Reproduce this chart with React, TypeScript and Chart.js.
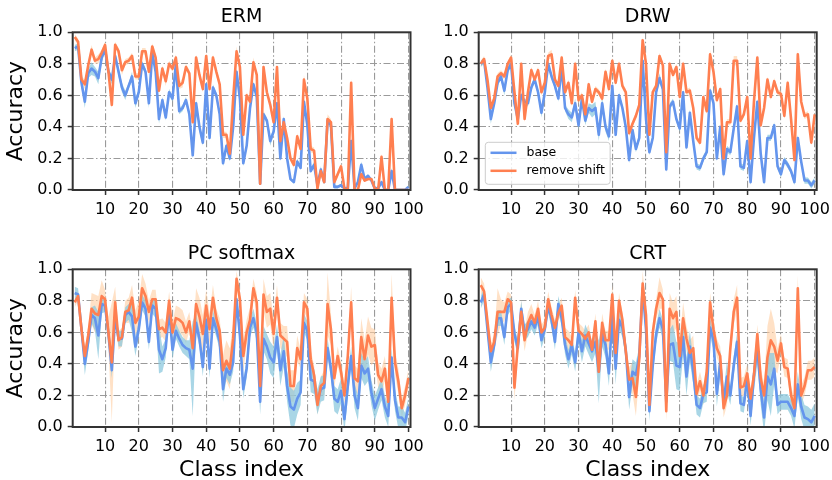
import React, { useEffect, useRef } from "react";
import { Chart, registerables } from "chart.js";

Chart.register(...registerables);

const FONT = "'DejaVu Sans', 'Liberation Sans', sans-serif";

// ---------- data ----------
const classIndex = Array.from({ length: 100 }, (_, i) => i + 1);
const xTickValues = [10, 20, 30, 40, 50, 60, 70, 80, 90, 100];
const yTickValues = [0, 0.2, 0.4, 0.6, 0.8, 1.0];
const panelTitles = ["ERM", "DRW", "PC softmax", "CRT"];
const seriesLabels = ["base", "remove shift"];

const ermBase = [
  0.90, 0.91, 0.68, 0.56, 0.74, 0.77, 0.75, 0.71, 0.84, 0.89,
  0.75, 0.70, 0.85, 0.75, 0.65, 0.60, 0.66, 0.72, 0.55, 0.62,
  0.80, 0.75, 0.55, 0.87, 0.75, 0.45, 0.57, 0.46, 0.62, 0.58,
  0.80, 0.50, 0.52, 0.57, 0.48, 0.22, 0.55, 0.40, 0.30, 0.67,
  0.33, 0.65, 0.60, 0.48, 0.17, 0.28, 0.20, 0.40, 0.75, 0.58,
  0.17, 0.28, 0.52, 0.67, 0.59, 0.04, 0.48, 0.44, 0.31, 0.37,
  0.55, 0.20, 0.45, 0.20, 0.07, 0.05, 0.18, 0.14, 0.56, 0.41,
  0.12, 0.16, 0.03, 0.13, 0.05, 0.44, 0.41, 0.02, 0.02, 0.03,
  0.01, 0.01, 0.31, 0.01, 0.05, 0.16, 0.07, 0.09, 0.06, 0.01,
  0.01, 0.05, 0.00, 0.00, 0.12, 0.00, 0.00, 0.00, 0.00, 0.02,
];
const ermBaseStd = [
  0.02, 0.02, 0.03, 0.04, 0.03, 0.04, 0.03, 0.04, 0.03, 0.02,
  0.02, 0.03, 0.02, 0.03, 0.03, 0.03, 0.02, 0.03, 0.03, 0.02,
  0.02, 0.02, 0.03, 0.02, 0.02, 0.03, 0.02, 0.02, 0.02, 0.02,
  0.02, 0.02, 0.02, 0.02, 0.02, 0.02, 0.02, 0.03, 0.02, 0.02,
  0.02, 0.02, 0.02, 0.02, 0.02, 0.02, 0.02, 0.02, 0.02, 0.02,
  0.02, 0.02, 0.02, 0.02, 0.02, 0.01, 0.02, 0.02, 0.03, 0.02,
  0.02, 0.02, 0.02, 0.02, 0.01, 0.01, 0.02, 0.01, 0.02, 0.02,
  0.01, 0.02, 0.01, 0.02, 0.01, 0.02, 0.02, 0.01, 0.01, 0.01,
  0.01, 0.01, 0.02, 0.01, 0.01, 0.02, 0.01, 0.01, 0.01, 0.01,
  0.01, 0.01, 0.01, 0.01, 0.02, 0.01, 0.01, 0.01, 0.01, 0.01,
];
const ermShift = [
  0.97, 0.94, 0.70, 0.67, 0.79, 0.89, 0.82, 0.83, 0.87, 0.92,
  0.75, 0.54, 0.92, 0.88, 0.76, 0.81, 0.82, 0.85, 0.72, 0.72,
  0.88, 0.88, 0.75, 0.91, 0.84, 0.63, 0.77, 0.69, 0.80, 0.77,
  0.84, 0.66, 0.68, 0.78, 0.74, 0.43, 0.84, 0.73, 0.64, 0.85,
  0.64, 0.84, 0.75, 0.67, 0.35, 0.35, 0.23, 0.58, 0.88, 0.78,
  0.35, 0.60, 0.56, 0.81, 0.73, 0.04, 0.78, 0.62, 0.54, 0.43,
  0.78, 0.31, 0.43, 0.33, 0.20, 0.16, 0.34, 0.26, 0.70, 0.58,
  0.26, 0.25, 0.01, 0.12, 0.05, 0.45, 0.43, 0.05, 0.10, 0.15,
  0.01, 0.00, 0.68, 0.00, 0.00, 0.10, 0.06, 0.07, 0.07, 0.01,
  0.00, 0.21, 0.00, 0.00, 0.45, 0.00, 0.00, 0.00, 0.00, 0.00,
];
const ermShiftStd = [
  0.02, 0.02, 0.02, 0.03, 0.02, 0.03, 0.02, 0.03, 0.02, 0.02,
  0.02, 0.02, 0.02, 0.02, 0.03, 0.02, 0.02, 0.02, 0.02, 0.02,
  0.02, 0.02, 0.02, 0.02, 0.02, 0.02, 0.02, 0.03, 0.02, 0.02,
  0.02, 0.02, 0.03, 0.02, 0.02, 0.02, 0.02, 0.02, 0.02, 0.02,
  0.02, 0.02, 0.03, 0.02, 0.02, 0.02, 0.02, 0.02, 0.03, 0.02,
  0.02, 0.02, 0.02, 0.03, 0.02, 0.01, 0.02, 0.02, 0.02, 0.02,
  0.02, 0.02, 0.02, 0.02, 0.02, 0.02, 0.02, 0.02, 0.03, 0.02,
  0.02, 0.02, 0.01, 0.02, 0.01, 0.03, 0.02, 0.01, 0.02, 0.02,
  0.01, 0.01, 0.03, 0.01, 0.01, 0.02, 0.01, 0.01, 0.01, 0.01,
  0.01, 0.02, 0.01, 0.01, 0.02, 0.01, 0.01, 0.01, 0.01, 0.01,
];

const drwBase = [
  0.80, 0.82, 0.65, 0.45, 0.55, 0.68, 0.72, 0.63, 0.76, 0.80,
  0.55, 0.45, 0.60, 0.56, 0.55, 0.65, 0.70, 0.62, 0.49, 0.62,
  0.80, 0.72, 0.66, 0.58, 0.78, 0.52, 0.48, 0.46, 0.55, 0.41,
  0.58, 0.44, 0.52, 0.50, 0.52, 0.35, 0.55, 0.40, 0.34, 0.66,
  0.35, 0.60, 0.52, 0.40, 0.19, 0.38, 0.26, 0.33, 0.82, 0.45,
  0.24, 0.33, 0.62, 0.71, 0.64, 0.13, 0.53, 0.56, 0.45, 0.39,
  0.62, 0.27, 0.49, 0.31, 0.15, 0.14, 0.20, 0.24, 0.63, 0.55,
  0.20, 0.40, 0.10, 0.26, 0.24, 0.39, 0.53, 0.15, 0.14, 0.31,
  0.05, 0.33, 0.56, 0.23, 0.05, 0.33, 0.33, 0.41, 0.15, 0.10,
  0.19, 0.16, 0.12, 0.05, 0.33, 0.18, 0.06, 0.06, 0.03, 0.06,
];
const drwBaseStd = [
  0.02, 0.02, 0.02, 0.03, 0.02, 0.02, 0.02, 0.03, 0.02, 0.02,
  0.02, 0.02, 0.02, 0.02, 0.02, 0.02, 0.02, 0.02, 0.03, 0.02,
  0.02, 0.02, 0.02, 0.02, 0.02, 0.02, 0.03, 0.03, 0.03, 0.03,
  0.03, 0.03, 0.03, 0.04, 0.04, 0.04, 0.04, 0.03, 0.03, 0.02,
  0.02, 0.02, 0.02, 0.02, 0.02, 0.02, 0.02, 0.02, 0.02, 0.02,
  0.02, 0.02, 0.02, 0.03, 0.02, 0.02, 0.02, 0.02, 0.02, 0.02,
  0.02, 0.02, 0.02, 0.02, 0.02, 0.02, 0.02, 0.02, 0.02, 0.02,
  0.02, 0.02, 0.02, 0.02, 0.02, 0.03, 0.02, 0.02, 0.02, 0.02,
  0.02, 0.02, 0.02, 0.02, 0.02, 0.02, 0.02, 0.02, 0.02, 0.02,
  0.02, 0.02, 0.02, 0.02, 0.02, 0.02, 0.02, 0.02, 0.02, 0.02,
];
const drwShift = [
  0.80, 0.83, 0.70, 0.52, 0.58, 0.72, 0.74, 0.72, 0.80, 0.84,
  0.62, 0.42, 0.80, 0.45, 0.62, 0.76, 0.70, 0.76, 0.62, 0.68,
  0.85, 0.86, 0.70, 0.66, 0.84, 0.62, 0.68, 0.55, 0.80, 0.57,
  0.60, 0.48, 0.67, 0.56, 0.64, 0.62, 0.58, 0.75, 0.64, 0.82,
  0.68, 0.80, 0.66, 0.62, 0.36, 0.42, 0.47, 0.54, 0.95, 0.80,
  0.35, 0.62, 0.66, 0.85, 0.79, 0.24, 0.80, 0.73, 0.78, 0.59,
  0.80, 0.62, 0.63, 0.52, 0.33, 0.30, 0.59, 0.50, 0.86, 0.75,
  0.57, 0.64, 0.20, 0.43, 0.43, 0.82, 0.82, 0.44, 0.48, 0.59,
  0.20, 0.56, 0.84, 0.41, 0.52, 0.70, 0.59, 0.69, 0.62, 0.61,
  0.47, 0.68, 0.45, 0.19, 0.86, 0.56, 0.47, 0.48, 0.30, 0.48,
];
const drwShiftStd = [
  0.02, 0.02, 0.02, 0.02, 0.02, 0.02, 0.02, 0.02, 0.02, 0.02,
  0.02, 0.02, 0.02, 0.02, 0.02, 0.02, 0.02, 0.02, 0.02, 0.02,
  0.02, 0.03, 0.02, 0.02, 0.02, 0.02, 0.02, 0.02, 0.02, 0.02,
  0.02, 0.02, 0.02, 0.02, 0.02, 0.02, 0.02, 0.02, 0.02, 0.02,
  0.02, 0.02, 0.02, 0.02, 0.02, 0.02, 0.02, 0.02, 0.02, 0.02,
  0.02, 0.02, 0.02, 0.02, 0.02, 0.02, 0.02, 0.02, 0.02, 0.02,
  0.02, 0.02, 0.02, 0.02, 0.02, 0.02, 0.02, 0.02, 0.03, 0.02,
  0.02, 0.02, 0.02, 0.02, 0.02, 0.03, 0.03, 0.02, 0.02, 0.02,
  0.02, 0.02, 0.02, 0.02, 0.02, 0.02, 0.02, 0.02, 0.02, 0.02,
  0.02, 0.02, 0.02, 0.02, 0.03, 0.02, 0.02, 0.02, 0.02, 0.02,
];

const pcBase = [
  0.85, 0.84, 0.62, 0.40, 0.54, 0.71, 0.69, 0.58, 0.78, 0.77,
  0.59, 0.36, 0.70, 0.56, 0.56, 0.71, 0.73, 0.70, 0.51, 0.62,
  0.79, 0.75, 0.54, 0.77, 0.75, 0.49, 0.43, 0.50, 0.75, 0.49,
  0.61, 0.56, 0.52, 0.50, 0.49, 0.37, 0.66, 0.56, 0.38, 0.68,
  0.37, 0.69, 0.62, 0.54, 0.24, 0.37, 0.33, 0.41, 0.81, 0.58,
  0.24, 0.37, 0.63, 0.69, 0.60, 0.16, 0.56, 0.51, 0.44, 0.41,
  0.57, 0.36, 0.48, 0.26, 0.13, 0.11, 0.18, 0.22, 0.66, 0.61,
  0.30, 0.29, 0.16, 0.24, 0.25, 0.50, 0.37, 0.18, 0.16, 0.23,
  0.05, 0.26, 0.45, 0.20, 0.12, 0.39, 0.34, 0.37, 0.22, 0.12,
  0.18, 0.24, 0.13, 0.07, 0.44, 0.17, 0.06, 0.06, 0.03, 0.13,
];
const pcBaseStd = [
  0.04, 0.04, 0.05, 0.07, 0.06, 0.05, 0.08, 0.15, 0.06, 0.04,
  0.05, 0.05, 0.05, 0.05, 0.05, 0.05, 0.05, 0.10, 0.06, 0.05,
  0.05, 0.05, 0.05, 0.05, 0.06, 0.15, 0.08, 0.06, 0.06, 0.06,
  0.05, 0.05, 0.05, 0.05, 0.06, 0.30, 0.06, 0.05, 0.06, 0.05,
  0.06, 0.05, 0.05, 0.05, 0.08, 0.06, 0.06, 0.06, 0.05, 0.06,
  0.06, 0.06, 0.06, 0.06, 0.06, 0.08, 0.08, 0.08, 0.10, 0.10,
  0.08, 0.10, 0.10, 0.10, 0.12, 0.12, 0.10, 0.08, 0.06, 0.06,
  0.08, 0.08, 0.08, 0.08, 0.08, 0.06, 0.06, 0.08, 0.08, 0.08,
  0.08, 0.08, 0.06, 0.08, 0.08, 0.08, 0.08, 0.08, 0.08, 0.08,
  0.07, 0.07, 0.07, 0.07, 0.06, 0.07, 0.07, 0.07, 0.06, 0.06,
];
const pcShift = [
  0.79, 0.83, 0.62, 0.45, 0.58, 0.75, 0.72, 0.71, 0.83, 0.81,
  0.60, 0.41, 0.79, 0.55, 0.57, 0.73, 0.74, 0.82, 0.66, 0.70,
  0.88, 0.83, 0.73, 0.81, 0.81, 0.62, 0.63, 0.60, 0.80, 0.60,
  0.69, 0.68, 0.66, 0.60, 0.67, 0.50, 0.78, 0.70, 0.59, 0.77,
  0.62, 0.82, 0.69, 0.61, 0.36, 0.42, 0.37, 0.56, 0.94, 0.81,
  0.45, 0.60, 0.68, 0.88, 0.79, 0.26, 0.84, 0.73, 0.75, 0.59,
  0.82, 0.58, 0.56, 0.54, 0.26, 0.26, 0.50, 0.43, 0.79, 0.75,
  0.43, 0.33, 0.14, 0.26, 0.28, 0.78, 0.62, 0.31, 0.45, 0.35,
  0.20, 0.45, 0.79, 0.31, 0.29, 0.57, 0.43, 0.58, 0.51, 0.52,
  0.33, 0.29, 0.37, 0.16, 0.82, 0.41, 0.29, 0.12, 0.20, 0.31,
];
const pcShiftStd = [
  0.03, 0.03, 0.05, 0.05, 0.06, 0.10, 0.12, 0.12, 0.10, 0.06,
  0.10, 0.38, 0.10, 0.06, 0.06, 0.07, 0.08, 0.08, 0.08, 0.10,
  0.09, 0.08, 0.07, 0.06, 0.06, 0.06, 0.06, 0.06, 0.06, 0.06,
  0.08, 0.08, 0.08, 0.07, 0.06, 0.08, 0.10, 0.12, 0.12, 0.10,
  0.10, 0.08, 0.06, 0.08, 0.10, 0.13, 0.13, 0.10, 0.05, 0.06,
  0.10, 0.08, 0.08, 0.06, 0.06, 0.12, 0.10, 0.10, 0.10, 0.10,
  0.08, 0.08, 0.08, 0.10, 0.10, 0.10, 0.08, 0.06, 0.06, 0.06,
  0.06, 0.06, 0.06, 0.06, 0.08, 0.20, 0.10, 0.06, 0.06, 0.06,
  0.06, 0.06, 0.10, 0.08, 0.08, 0.12, 0.12, 0.12, 0.12, 0.10,
  0.08, 0.08, 0.08, 0.08, 0.15, 0.08, 0.08, 0.06, 0.06, 0.06,
];

const crtBase = [
  0.79, 0.84, 0.62, 0.41, 0.52, 0.69, 0.69, 0.57, 0.76, 0.78,
  0.59, 0.50, 0.75, 0.60, 0.62, 0.67, 0.63, 0.70, 0.55, 0.62,
  0.77, 0.68, 0.54, 0.78, 0.69, 0.52, 0.43, 0.52, 0.41, 0.60,
  0.48, 0.58, 0.53, 0.48, 0.54, 0.35, 0.59, 0.52, 0.34, 0.71,
  0.37, 0.68, 0.63, 0.49, 0.19, 0.35, 0.33, 0.45, 0.88, 0.62,
  0.10, 0.39, 0.59, 0.69, 0.62, 0.16, 0.52, 0.53, 0.39, 0.38,
  0.57, 0.32, 0.51, 0.35, 0.14, 0.12, 0.21, 0.22, 0.63, 0.55,
  0.21, 0.41, 0.16, 0.32, 0.20, 0.39, 0.54, 0.15, 0.14, 0.31,
  0.07, 0.33, 0.50, 0.24, 0.06, 0.32, 0.27, 0.37, 0.14, 0.16,
  0.16, 0.16, 0.12, 0.07, 0.27, 0.13, 0.06, 0.05, 0.03, 0.07,
];
const crtBaseStd = [
  0.04, 0.04, 0.05, 0.06, 0.05, 0.05, 0.05, 0.05, 0.05, 0.04,
  0.05, 0.05, 0.05, 0.05, 0.05, 0.05, 0.05, 0.05, 0.05, 0.05,
  0.05, 0.05, 0.05, 0.05, 0.05, 0.06, 0.06, 0.06, 0.06, 0.07,
  0.07, 0.07, 0.07, 0.07, 0.07, 0.20, 0.08, 0.08, 0.08, 0.06,
  0.10, 0.06, 0.06, 0.06, 0.08, 0.08, 0.08, 0.06, 0.05, 0.06,
  0.06, 0.06, 0.06, 0.06, 0.06, 0.06, 0.10, 0.12, 0.15, 0.15,
  0.12, 0.12, 0.10, 0.08, 0.06, 0.06, 0.06, 0.06, 0.06, 0.06,
  0.08, 0.08, 0.06, 0.10, 0.06, 0.06, 0.06, 0.05, 0.05, 0.06,
  0.06, 0.10, 0.10, 0.10, 0.10, 0.15, 0.20, 0.10, 0.06, 0.05,
  0.05, 0.05, 0.05, 0.08, 0.08, 0.08, 0.08, 0.08, 0.08, 0.08,
];
const crtShift = [
  0.90, 0.86, 0.67, 0.48, 0.54, 0.73, 0.73, 0.73, 0.81, 0.79,
  0.25, 0.52, 0.73, 0.55, 0.66, 0.71, 0.66, 0.75, 0.60, 0.63,
  0.81, 0.71, 0.63, 0.72, 0.77, 0.57, 0.55, 0.52, 0.82, 0.61,
  0.59, 0.56, 0.60, 0.49, 0.67, 0.35, 0.66, 0.55, 0.55, 0.84,
  0.47, 0.80, 0.68, 0.48, 0.30, 0.31, 0.19, 0.43, 0.91, 0.71,
  0.14, 0.60, 0.75, 0.85, 0.81, 0.10, 0.75, 0.69, 0.73, 0.45,
  0.69, 0.56, 0.47, 0.50, 0.21, 0.29, 0.20, 0.35, 0.79, 0.62,
  0.50, 0.45, 0.12, 0.20, 0.50, 0.73, 0.82, 0.25, 0.26, 0.34,
  0.18, 0.33, 0.59, 0.31, 0.20, 0.44, 0.55, 0.51, 0.42, 0.53,
  0.38, 0.37, 0.20, 0.12, 0.88, 0.20, 0.26, 0.36, 0.36, 0.38,
];
const crtShiftStd = [
  0.05, 0.05, 0.05, 0.05, 0.05, 0.15, 0.08, 0.06, 0.05, 0.05,
  0.08, 0.07, 0.07, 0.07, 0.07, 0.07, 0.05, 0.05, 0.05, 0.05,
  0.05, 0.05, 0.05, 0.05, 0.05, 0.06, 0.06, 0.05, 0.05, 0.05,
  0.05, 0.05, 0.05, 0.05, 0.05, 0.06, 0.06, 0.06, 0.06, 0.06,
  0.05, 0.05, 0.05, 0.06, 0.08, 0.10, 0.12, 0.10, 0.08, 0.06,
  0.06, 0.06, 0.06, 0.10, 0.06, 0.06, 0.10, 0.10, 0.10, 0.10,
  0.10, 0.08, 0.08, 0.08, 0.06, 0.06, 0.06, 0.06, 0.06, 0.06,
  0.06, 0.06, 0.06, 0.06, 0.06, 0.08, 0.08, 0.06, 0.06, 0.06,
  0.06, 0.06, 0.06, 0.06, 0.08, 0.20, 0.20, 0.15, 0.08, 0.06,
  0.06, 0.06, 0.06, 0.06, 0.08, 0.06, 0.06, 0.06, 0.06, 0.06,
];

// ---------- styling ----------
const BASE_COLOR = "#6495ED";
const SHIFT_COLOR = "#FF7F50";
const BASE_BAND = "rgba(140, 200, 222, 0.75)";
const SHIFT_BAND = "rgba(255, 205, 160, 0.6)";
const GRID_COLOR = "#9a9a9a";
const SPINE_COLOR = "#333333";
const TEXT_COLOR = "#000000";

const framePlugin = {
  id: "frame",
  afterDatasetsDraw(chart: any) {
    const { ctx, chartArea } = chart;
    const { left, top, right, bottom } = chartArea;
    ctx.save();
    ctx.strokeStyle = SPINE_COLOR;
    ctx.lineWidth = 2;
    ctx.strokeRect(left, top, right - left, bottom - top);
    ctx.restore();
  },
};

const innerLegend = {
  id: "innerLegend",
  afterDraw(chart: any, _args: any, opts: any) {
    if (!opts || !opts.display) return;
    const { ctx, chartArea } = chart;
    const items = chart.data.datasets
      .filter((d: any) => d.legendRank !== undefined)
      .sort((a: any, b: any) => a.legendRank - b.legendRank);
    const fs = 12.5;
    ctx.save();
    ctx.font = `${fs}px ${FONT}`;
    const textW = Math.max(...items.map((d: any) => ctx.measureText(d.label).width));
    const pad = 5.2, handle = 26, gap = 10, rowH = 18;
    const w = pad + handle + gap + textW + pad;
    const h = 42;
    const x = chartArea.left + 6.6;
    const y = chartArea.bottom - 5.7 - h;
    ctx.beginPath();
    if (ctx.roundRect) ctx.roundRect(x, y, w, h, 3);
    else ctx.rect(x, y, w, h);
    ctx.fillStyle = "rgba(255,255,255,0.8)";
    ctx.fill();
    ctx.strokeStyle = "#cccccc";
    ctx.lineWidth = 1;
    ctx.stroke();
    items.forEach((d: any, i: number) => {
      const cy = y + 10.5 + i * rowH;
      ctx.strokeStyle = d.borderColor;
      ctx.lineWidth = 2.5;
      ctx.beginPath();
      ctx.moveTo(x + pad, cy);
      ctx.lineTo(x + pad + handle, cy);
      ctx.stroke();
      ctx.fillStyle = TEXT_COLOR;
      ctx.textBaseline = "middle";
      ctx.textAlign = "left";
      ctx.fillText(d.label, x + pad + handle + gap, cy);
    });
    ctx.restore();
  },
};

type PanelSpec = {
  title: string;
  base: number[];
  baseStd: number[];
  shift: number[];
  shiftStd: number[];
  pad: { left: number; right: number; top: number; bottom: number };
  yAxisW: number;
  xAxisH: number;
  titlePad: { top: number; bottom: number };
  yTitle: boolean;
  xTitle: boolean;
  legend: boolean;
};

const panels: PanelSpec[] = [
  {
    title: panelTitles[0], base: ermBase, baseStd: ermBaseStd, shift: ermShift, shiftStd: ermShiftStd,
    pad: { left: 0, right: 421.5, top: 0, bottom: 240 }, yAxisW: 72.7, xAxisH: 50,
    titlePad: { top: 6.1, bottom: 3.4 }, yTitle: true, xTitle: false, legend: false,
  },
  {
    title: panelTitles[1], base: drwBase, baseStd: drwBaseStd, shift: drwShift, shiftStd: drwShiftStd,
    pad: { left: 416, right: 15.3, top: 0, bottom: 240 }, yAxisW: 62.7, xAxisH: 50,
    titlePad: { top: 6.1, bottom: 3.4 }, yTitle: false, xTitle: false, legend: true,
  },
  {
    title: panelTitles[2], base: pcBase, baseStd: pcBaseStd, shift: pcShift, shiftStd: pcShiftStd,
    pad: { left: 0, right: 421.5, top: 240, bottom: 0 }, yAxisW: 72.7, xAxisH: 53,
    titlePad: { top: 3.1, bottom: 3.4 }, yTitle: true, xTitle: true, legend: false,
  },
  {
    title: panelTitles[3], base: crtBase, baseStd: crtBaseStd, shift: crtShift, shiftStd: crtShiftStd,
    pad: { left: 416, right: 15.3, top: 240, bottom: 0 }, yAxisW: 62.7, xAxisH: 53,
    titlePad: { top: 3.1, bottom: 3.4 }, yTitle: false, xTitle: true, legend: false,
  },
];

const toPts = (vals: number[]) => vals.map((v, i) => ({ x: classIndex[i], y: v }));

function buildConfig(p: PanelSpec): any {
  const baseLo = p.base.map((v, i) => v - p.baseStd[i]);
  const baseHi = p.base.map((v, i) => v + p.baseStd[i]);
  const shiftLo = p.shift.map((v, i) => v - p.shiftStd[i]);
  const shiftHi = p.shift.map((v, i) => v + p.shiftStd[i]);
  const lineCommon = { pointRadius: 0, borderWidth: 2.6, tension: 0, borderJoinStyle: "round", fill: false };
  const bandCommon = { pointRadius: 0, borderWidth: 0, tension: 0 };
  const tickFont = { family: FONT, size: 16 };
  return {
    type: "line",
    data: {
      datasets: [
        { label: seriesLabels[1], data: toPts(p.shift), borderColor: SHIFT_COLOR, legendRank: 1, ...lineCommon },
        { label: seriesLabels[0], data: toPts(p.base), borderColor: BASE_COLOR, legendRank: 0, ...lineCommon },
        { label: "base_hi", data: toPts(baseHi), fill: 3, backgroundColor: BASE_BAND, borderColor: "rgba(0,0,0,0)", ...bandCommon },
        { label: "base_lo", data: toPts(baseLo), fill: false, borderColor: "rgba(0,0,0,0)", ...bandCommon },
        { label: "shift_hi", data: toPts(shiftHi), fill: 5, backgroundColor: SHIFT_BAND, borderColor: "rgba(0,0,0,0)", ...bandCommon },
        { label: "shift_lo", data: toPts(shiftLo), fill: false, borderColor: "rgba(0,0,0,0)", ...bandCommon },
      ],
    },
    options: {
      animation: false,
      responsive: false,
      events: [],
      layout: { padding: p.pad },
      plugins: {
        legend: { display: false },
        tooltip: { enabled: false },
        title: {
          display: true,
          text: p.title,
          fullSize: false,
          color: TEXT_COLOR,
          font: { family: FONT, size: 19, weight: "normal", lineHeight: 1.2 },
          padding: p.titlePad,
        },
        innerLegend: { display: p.legend },
      },
      scales: {
        x: {
          type: "linear",
          min: 0.4,
          max: 100.6,
          afterBuildTicks: (s: any) => {
            s.ticks = xTickValues.map((v) => ({ value: v }));
          },
          afterFit: (s: any) => {
            s.height = p.xAxisH;
            s.paddingLeft = 0;
            s.paddingRight = 0;
          },
          ticks: {
            autoSkip: false,
            maxRotation: 0,
            minRotation: 0,
            padding: 5,
            color: TEXT_COLOR,
            font: tickFont,
            callback: (v: any) => String(v),
          },
          grid: {
            color: GRID_COLOR,
            lineWidth: 1.1,
            tickLength: 5,
            tickColor: SPINE_COLOR,
            tickWidth: 1.5,
            tickBorderDash: [],
          },
          border: { display: false, dash: [7, 2.5, 1.5, 2.5] },
          title: {
            display: p.xTitle,
            text: "Class index",
            color: TEXT_COLOR,
            font: { family: FONT, size: 22, lineHeight: 0.87 },
            padding: 0,
          },
        },
        y: {
          type: "linear",
          min: 0,
          max: 1,
          afterBuildTicks: (s: any) => {
            s.ticks = yTickValues.map((v) => ({ value: v }));
          },
          afterFit: (s: any) => {
            s.width = p.yAxisW;
            s.paddingTop = 0;
            s.paddingBottom = 0;
          },
          ticks: {
            padding: 5,
            color: TEXT_COLOR,
            font: tickFont,
            callback: (v: any) => Number(v).toFixed(1),
          },
          grid: {
            color: GRID_COLOR,
            lineWidth: 1.1,
            tickLength: 5,
            tickColor: SPINE_COLOR,
            tickWidth: 1.5,
            tickBorderDash: [],
          },
          border: { display: false, dash: [7, 2.5, 1.5, 2.5] },
          title: {
            display: p.yTitle,
            text: "Accuracy",
            color: TEXT_COLOR,
            font: { family: FONT, size: 22, lineHeight: 1.2 },
            padding: { top: 3.5, bottom: 0 },
          },
        },
      },
    },
    plugins: [framePlugin, innerLegend],
  };
}

function Panel({ spec }: { spec: PanelSpec }) {
  const ref = useRef<HTMLCanvasElement | null>(null);
  useEffect(() => {
    if (!ref.current) return;
    const chart = new Chart(ref.current, buildConfig(spec));
    return () => chart.destroy();
  }, [spec]);
  return (
    <canvas
      ref={ref}
      width={832}
      height={480}
      style={{ position: "absolute", left: 0, top: 0, width: 832, height: 480 }}
    />
  );
}

export default function App() {
  return (
    <div
      style={{
        position: "fixed",
        left: 0,
        top: 0,
        width: 832,
        height: 480,
        background: "#ffffff",
        overflow: "hidden",
      }}
    >
      {panels.map((p) => (
        <Panel key={p.title} spec={p} />
      ))}
    </div>
  );
}
